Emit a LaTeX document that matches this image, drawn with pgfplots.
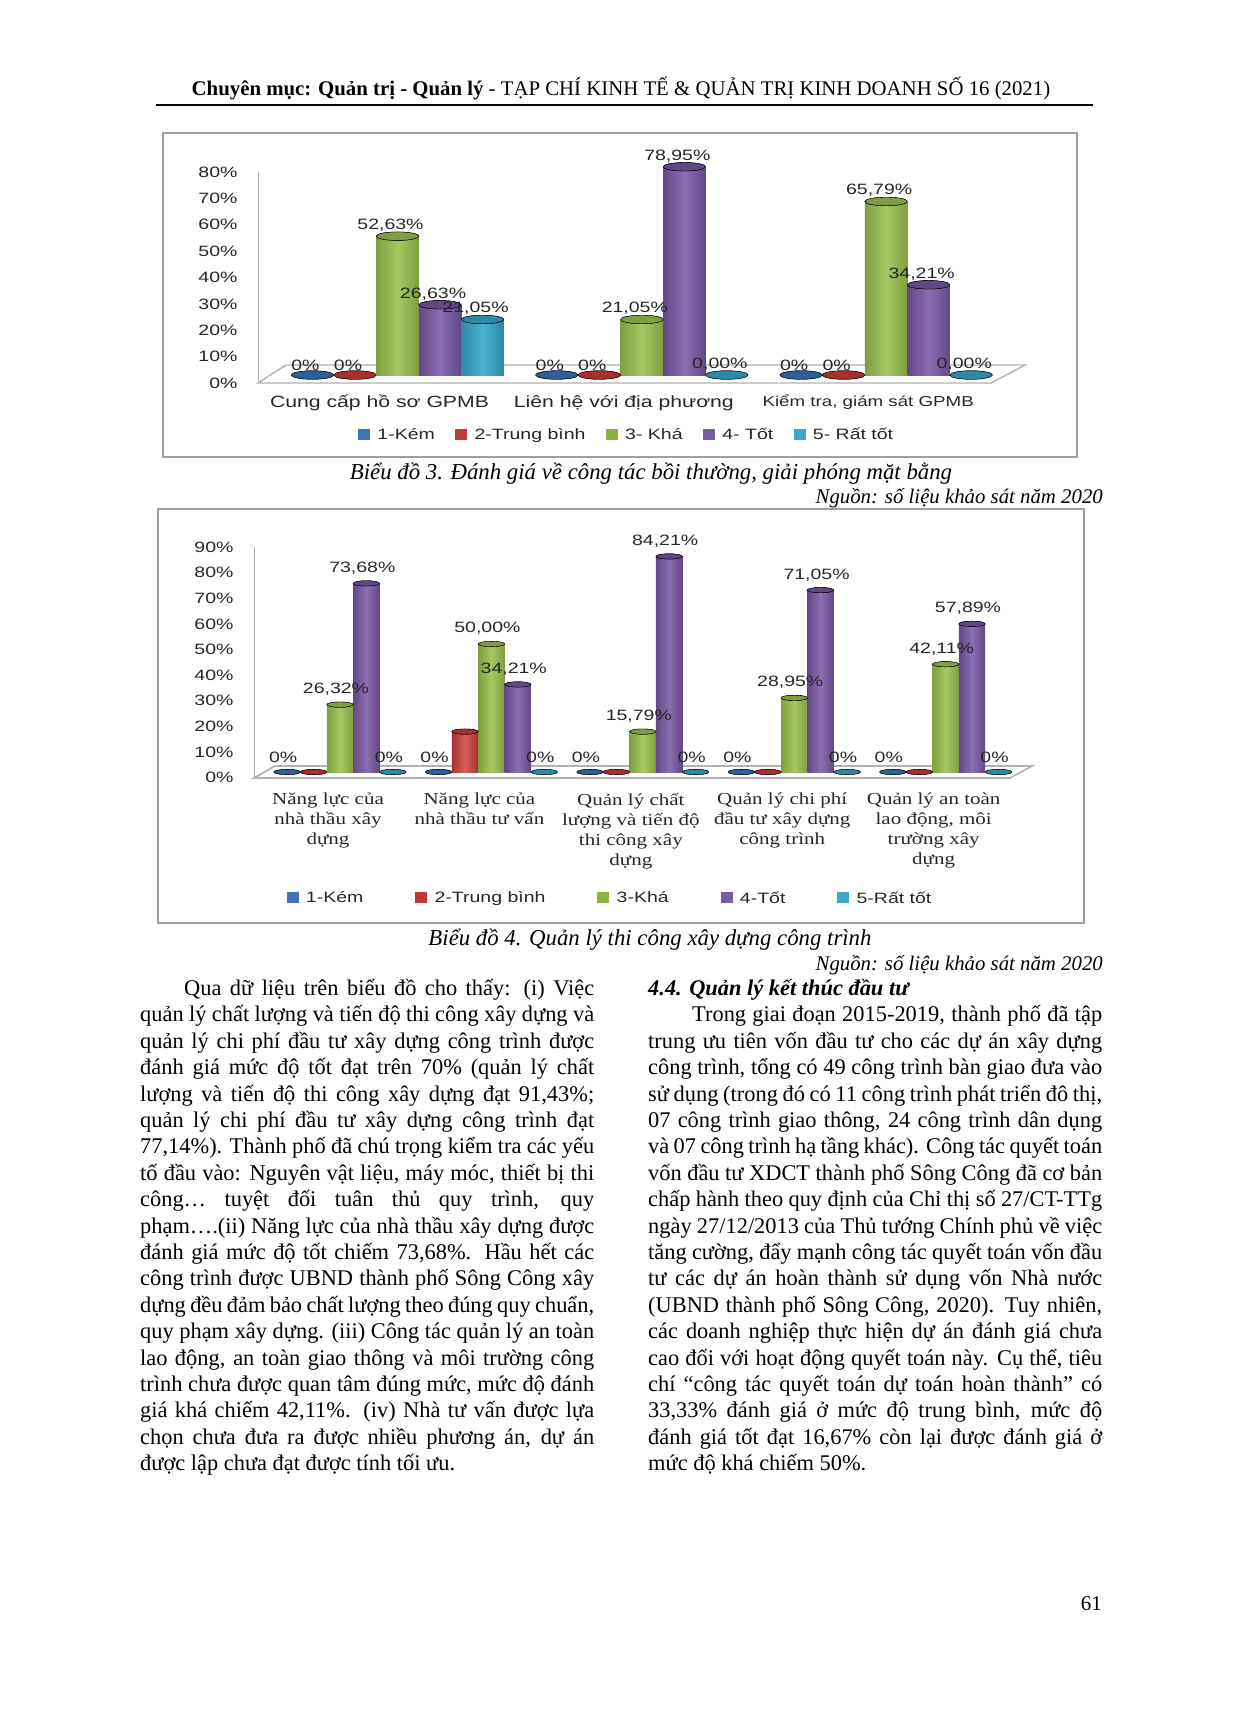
\documentclass[border=0pt]{standalone}
\usepackage{fontspec}
\usepackage{pgfplots}
\usepackage{pgfplotstable}
\pgfplotsset{compat=1.18}
\setmainfont{Liberation Serif}
\newfontfamily\wsans[FakeStretch=1.3]{Liberation Sans}
\newfontfamily\wserif[FakeStretch=1.25]{Liberation Serif}

% series colours: body, dark edge, light centre
\definecolor{kem}{HTML}{3F74B0}  \definecolor{kemd}{HTML}{2F5F98}  \definecolor{keml}{HTML}{5A8CC8}
\definecolor{tb}{HTML}{BC3B38}   \definecolor{tbd}{HTML}{A5302D}   \definecolor{tbl}{HTML}{D9605C}
\definecolor{kha}{HTML}{8DB143}  \definecolor{khad}{HTML}{7F9E42}  \definecolor{khal}{HTML}{A6C862}
\definecolor{tot}{HTML}{7A5CA4}  \definecolor{totd}{HTML}{624786}  \definecolor{totl}{HTML}{8C6EB2}
\definecolor{rat}{HTML}{3CA9C8}  \definecolor{ratd}{HTML}{2C8AA5}  \definecolor{ratl}{HTML}{48B2CF}

\pgfplotstableread{
kem tb kha tot rat
0 0 52.63 26.63 21.05
0 0 21.05 78.95 0
0 0 65.79 34.21 0
}\tabA

\pgfplotstableread{
kem tb kha tot rat
0 0 26.32 73.68 0
0 15.79 50 34.21 0
0 0 15.79 84.21 0
0 0 28.95 71.05 0
0 0 42.11 57.89 0
}\tabB

% #1 table, #2 column, #3 colour, #4 x offset
% one bar per plot, otherwise the shading runs across all bars of the series
\newcommand{\cyl}[4]{%
  \addplot[forget plot, only marks, mark=*, mark size=\mr,
    mark options={draw=none, fill=#3d, yscale=.2}]
    table[x expr=\coordindex+#4, y=#2] {#1};
  \expandafter\pgfplotsinvokeforeach\expandafter{\rows}{%
    \addplot[forget plot, ybar, bar width=\bw, bar shift=0pt, draw=none,
      left color=#3d, right color=#3d, middle color=#3l,
      y filter/.expression={(\coordindex==##1 && y>0) ? y : nan}]
      table[x expr=\coordindex+#4, y=#2] {#1};
  }
  \addplot[forget plot, only marks, mark=*, mark size=\mr,
    mark options={draw=none, fill=#3d, yscale=.2}]
    table[x expr=\coordindex+#4, y=#2] {#1};
}
% value labels go on last so that the bars do not cover them
\newcommand{\lab}[4]{%
  \addplot[forget plot, only marks, mark=*, mark size=0pt,
    mark options={draw=none, fill=none},
    nodes near coords={#4},
    every node near coord/.append style={font=\lblfont, text=black!85, anchor=south, inner sep=0pt,
      xshift=\lblx, yshift=\lbly}]
    table[x expr=\coordindex+#3, y=#2] {#1};
}
\newcommand{\pct}{\pgfmathprintnumber[fixed,fixed zerofill,precision=2,use comma,assume math mode=true]{\pgfplotspointmeta}\%}
\newcommand{\lblfont}{\fontsize{15}{17}\selectfont\wsans}
\newcommand{\jl}[1]{\makebox[454pt][s]{\spaceskip=.25em plus 1em minus .15em\relax #1}\\}

\pgfplotsset{
  chart/.style={
    scale only axis, clip=false,
    axis line style={draw=none}, major tick length=0pt,
    yticklabel={\pgfmathprintnumber[assume math mode=true]{\tick}\%},
    y tick label style={font=\lblfont, text=black!85, anchor=east},
    legend cell align=left,
    legend image code/.code={\path[##1,draw=none] (0pt,-5pt) rectangle (12pt,6pt); \path (17pt,0pt);},
  },
}

\begin{document}
\begin{tikzpicture}
\path (0,0) rectangle (1240pt,-1712pt);

% header
\node[font=\fontsize{20.8}{24}\selectfont] at (621pt,-89pt)
  {\textbf{Chuyên mục: Quản trị - Quản lý} - TẠP CHÍ KINH TẾ \& QUẢN TRỊ KINH DOANH SỐ 16 (2021)};
\draw[line width=1.2pt] (156pt,-105pt) -- (1093pt,-105pt);

% frames
\draw[gray!75, line width=2pt] (163pt,-133pt) rectangle (1077pt,-457pt);
\draw[gray!75, line width=2pt] (158pt,-509pt) rectangle (1084pt,-923pt);

% chart 3
\def\bw{42.5pt}\def\mr{21.2pt}\def\lbly{4.5pt}\def\lblx{-7pt}\def\rows{0,1,2}
\begin{axis}[chart,
  at={(258pt,-383pt)}, anchor=south west,
  width=733pt, height=219pt,
  xmin=-0.571, xmax=2.429, ymin=-3.03, ymax=80,
  xtick={0,1,2},
  xticklabels={Cung cấp hồ sơ GPMB, Liên hệ với địa phương, {\fontsize{14.4}{16}\selectfont Kiểm tra, giám sát GPMB}},
  x tick label style={font=\fontsize{16.3}{19}\selectfont\wsans, text=black!85, xshift=-18pt, yshift=-8.5pt},
  ytick={0,10,...,80},
  y tick label style={xshift=-17pt, yshift=-8pt},
  legend columns=5,
  legend style={at={(axis description cs:0.503,-0.237)}, anchor=center, draw=none, fill=none,
    font=\fontsize{15}{17}\selectfont\wsans, text=black!85,
    /tikz/every even column/.append style={column sep=18.5pt}},
]
\addlegendimage{fill=kem}\addlegendimage{fill=tb}\addlegendimage{fill=kha}\addlegendimage{fill=tot}\addlegendimage{fill=rat}
\draw[gray!60, line width=1.4pt, fill=white] (axis cs:-0.571,-3.03) -- (axis cs:-0.456,3.8) -- (axis cs:2.569,3.8) -- (axis cs:2.429,-3.03) -- cycle;
\draw[gray!60, line width=1pt] (axis cs:-0.571,-3.03) -- (axis cs:-0.571,76.97);
\cyl{\tabA}{kem}{kem}{-0.348}
\cyl{\tabA}{tb}{tb}{-0.174}
\cyl{\tabA}{kha}{kha}{0}
\cyl{\tabA}{tot}{tot}{0.174}
\cyl{\tabA}{rat}{rat}{0.348}
\lab{\tabA}{kem}{-0.348}{0\%}
\lab{\tabA}{tb}{-0.174}{0\%}
\lab{\tabA}{kha}{0}{\pct}
\lab{\tabA}{tot}{0.174}{\pct}
\lab{\tabA}{rat}{0.348}{\pct}
\legend{1-Kém, 2-Trung bình, 3- Khá, 4- Tốt, 5- Rất tốt}
\end{axis}

% chart 4
\def\bw{26.4pt}\def\mr{13.2pt}\def\lbly{9pt}\def\lblx{-4pt}\def\rows{0,1,2,3,4}
\begin{axis}[chart,
  at={(254pt,-778pt)}, anchor=south west,
  width=756pt, height=236.4pt,
  xmin=-0.568, xmax=4.425, ymin=-2.34, ymax=90,
  xtick={0,1,2,3,4},
  xticklabels={{Năng lực của\\nhà thầu xây\\dựng}, {Năng lực của\\nhà thầu tư vấn}, {Quản lý chất\\lượng và tiến độ\\thi công xây\\dựng}, {Quản lý chi phí\\đầu tư xây dựng\\công trình}, {Quản lý an toàn\\lao động, môi\\trường xây\\dựng}},
  x tick label style={font=\fontsize{16.8}{20}\selectfont\wserif, text=black!85, align=center, xshift=-12pt, yshift=-11.5pt, anchor=north},
  ytick={0,10,...,90},
  y tick label style={xshift=-17pt, yshift=-5.5pt},
  legend columns=5,
  legend style={at={(axis description cs:0.471,-0.508)}, anchor=center, draw=none, fill=none,
    font=\fontsize{15}{17}\selectfont\wsans, text=black!85,
    /tikz/every even column/.append style={column sep=50pt}},
]
\addlegendimage{fill=kem}\addlegendimage{fill=tb}\addlegendimage{fill=kha}\addlegendimage{fill=tot}\addlegendimage{fill=rat}
\draw[gray!60, line width=1.6pt, fill=white] (axis cs:-0.568,-2.34) -- (axis cs:-0.43,2.34) -- (axis cs:4.57,2.34) -- (axis cs:4.425,-2.34) -- cycle;
\draw[gray!60, line width=1pt] (axis cs:-0.568,-2.34) -- (axis cs:-0.568,88);
\cyl{\tabB}{kem}{kem}{-0.349}
\cyl{\tabB}{tb}{tb}{-0.174}
\cyl{\tabB}{kha}{kha}{0}
\cyl{\tabB}{tot}{tot}{0.174}
\cyl{\tabB}{rat}{rat}{0.349}
\lab{\tabB}{kem}{-0.349}{0\%}
\lab{\tabB}{kha}{0}{\pct}
\lab{\tabB}{tot}{0.174}{\pct}
\lab{\tabB}{rat}{0.349}{0\%}
\legend{1-Kém, 2-Trung bình, 3-Khá, 4-Tốt, 5-Rất tốt}
\end{axis}

% captions
\node[font=\fontsize{22.8}{26}\selectfont\itshape] at (651pt,-474pt) {Biểu đồ 3. Đánh giá về công tác bồi thường, giải phóng mặt bằng};
\node[font=\fontsize{20.8}{25}\selectfont\itshape, anchor=east, inner sep=0pt] at (1103pt,-498pt) {Nguồn: số liệu khảo sát năm 2020};
\node[font=\fontsize{22.8}{26}\selectfont\itshape] at (650pt,-940pt) {Biểu đồ 4. Quản lý thi công xây dựng công trình};
\node[font=\fontsize{20.8}{25}\selectfont\itshape, anchor=east, inner sep=0pt] at (1103pt,-965pt) {Nguồn: số liệu khảo sát năm 2020};

% body text
\node[anchor=north west, inner sep=0pt, align=left, font=\fontsize{22.4}{26.4}\selectfont] at (140pt,-979pt) {%
\jl{\hspace{44pt}Qua dữ liệu trên biểu đồ cho thấy: (i) Việc}
\jl{quản lý chất lượng và tiến độ thi công xây dựng và}
\jl{quản lý chi phí đầu tư xây dựng công trình được}
\jl{đánh giá mức độ tốt đạt trên 70\% (quản lý chất}
\jl{lượng và tiến độ thi công xây dựng đạt 91,43\%;}
\jl{quản lý chi phí đầu tư xây dựng công trình đạt}
\jl{77,14\%). Thành phố đã chú trọng kiểm tra các yếu}
\jl{tố đầu vào: Nguyên vật liệu, máy móc, thiết bị thi}
\jl{công… tuyệt đối tuân thủ quy trình, quy}
\jl{phạm….(ii) Năng lực của nhà thầu xây dựng được}
\jl{đánh giá mức độ tốt chiếm 73,68\%. Hầu hết các}
\jl{công trình được UBND thành phố Sông Công xây}
\jl{dựng đều đảm bảo chất lượng theo đúng quy chuẩn,}
\jl{quy phạm xây dựng. (iii) Công tác quản lý an toàn}
\jl{lao động, an toàn giao thông và môi trường công}
\jl{trình chưa được quan tâm đúng mức, mức độ đánh}
\jl{giá khá chiếm 42,11\%. (iv) Nhà tư vấn được lựa}
\jl{chọn chưa đưa ra được nhiều phương án, dự án}
được lập chưa đạt được tính tối ưu.};

\node[anchor=north west, inner sep=0pt, align=left, font=\fontsize{22.4}{26.4}\selectfont] at (648pt,-979pt) {%
\textbf{\textit{4.4. Quản lý kết thúc đầu tư}}\\
\jl{\hspace{44pt}Trong giai đoạn 2015-2019, thành phố đã tập}
\jl{trung ưu tiên vốn đầu tư cho các dự án xây dựng}
\jl{công trình, tổng có 49 công trình bàn giao đưa vào}
\jl{sử dụng (trong đó có 11 công trình phát triển đô thị,}
\jl{07 công trình giao thông, 24 công trình dân dụng}
\jl{và 07 công trình hạ tầng khác). Công tác quyết toán}
\jl{vốn đầu tư XDCT thành phố Sông Công đã cơ bản}
\jl{chấp hành theo quy định của Chỉ thị số 27/CT-TTg}
\jl{ngày 27/12/2013 của Thủ tướng Chính phủ về việc}
\jl{tăng cường, đẩy mạnh công tác quyết toán vốn đầu}
\jl{tư các dự án hoàn thành sử dụng vốn Nhà nước}
\jl{(UBND thành phố Sông Công, 2020). Tuy nhiên,}
\jl{các doanh nghiệp thực hiện dự án đánh giá chưa}
\jl{cao đối với hoạt động quyết toán này. Cụ thể, tiêu}
\jl{chí “công tác quyết toán dự toán hoàn thành” có}
\jl{33,33\% đánh giá ở mức độ trung bình, mức độ}
\jl{đánh giá tốt đạt 16,67\% còn lại được đánh giá ở}
mức độ khá chiếm 50\%.};

\node[font=\fontsize{21}{25}\selectfont, anchor=east, inner sep=0pt] at (1102pt,-1604pt) {61};
\end{tikzpicture}
\end{document}
